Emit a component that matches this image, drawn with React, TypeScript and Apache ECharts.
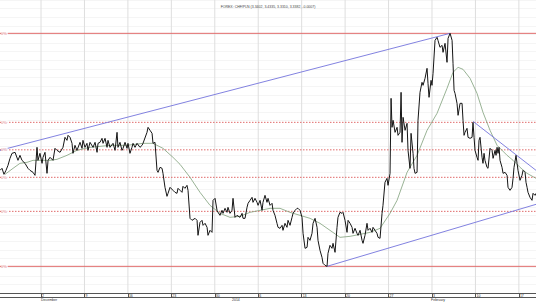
import React, { useEffect, useRef } from "react";
import * as echarts from "echarts";

const titleText = "FOREX: CHF/PLN (3.3402, 3.4335, 3.3310, 3.3382, -0.0007)";

// x values are trading days counted from Monday 2 December 2013
const X_MIN = -4.72;
const X_MAX = 56.97;
const Y_MIN = 3.3695;
const Y_MAX = 3.4574;

const tickDays = [0, 5, 10, 15, 20, 25, 30, 35, 40, 45, 50, 55];
const tickLabels = ["2", "9", "16", "23", "30", "6", "13", "20", "27", "3", "10", "17"];
const monthDays = [0, 21.98, 44.89];
const monthLabels = ["December", "2014", "February"];

const price: [number, number][] = [
  [-4.72,3.4063],[-4.49,3.4069],[-4.26,3.4051],[-4.03,3.4063],[-3.80,3.4078],[-3.57,3.4099],[-3.34,3.4114],[-2.99,3.4117],[-2.65,3.4093],[-2.42,3.4108],[-2.19,3.4093],[-1.84,3.4084],[-1.50,3.4069],[-1.27,3.4063],[-0.92,3.4057],[-0.69,3.4048],[-0.46,3.4132],[-0.35,3.4093],[-0.12,3.4114],[0.12,3.4084],[0.23,3.4102],[0.46,3.4117],[0.69,3.4054],[0.81,3.4093],[1.04,3.4102],[1.38,3.4093],[1.61,3.4129],[1.84,3.4123],[2.19,3.4117],[2.53,3.4132],[2.76,3.4162],[2.99,3.4153],[3.11,3.4168],[3.34,3.4162],[3.57,3.4144],[3.68,3.4114],[3.91,3.4138],[4.14,3.4123],[4.49,3.4147],[4.72,3.4129],[4.83,3.4153],[5.06,3.4132],[5.29,3.4144],[5.41,3.4123],[5.64,3.4147],[5.99,3.4132],[6.22,3.4147],[6.45,3.4117],[6.56,3.4144],[6.79,3.4147],[7.02,3.4159],[7.14,3.4144],[7.37,3.4159],[7.60,3.4132],[7.71,3.4153],[7.94,3.4132],[8.29,3.4144],[8.52,3.4123],[8.75,3.4177],[8.86,3.4132],[9.09,3.4147],[9.32,3.4123],[9.44,3.4129],[9.67,3.4147],[9.90,3.4129],[10.01,3.4144],[10.24,3.4114],[10.47,3.4132],[10.59,3.4144],[10.82,3.4132],[11.05,3.4144],[11.39,3.4132],[11.63,3.4138],[11.74,3.4144],[12.20,3.4177],[12.32,3.4192],[12.55,3.4183],[12.78,3.4174],[12.89,3.4144],[13.12,3.4147],[13.35,3.4063],[13.47,3.4057],[13.70,3.4072],[13.93,3.4069],[14.04,3.4054],[14.27,3.4012],[14.50,3.3985],[14.62,3.3994],[14.85,3.4012],[15.19,3.4003],[15.42,3.3997],[15.65,3.3994],[15.77,3.4009],[16.00,3.4003],[16.23,3.3997],[16.34,3.4015],[16.57,3.4009],[16.80,3.4018],[16.92,3.4003],[17.15,3.3919],[17.38,3.3913],[17.73,3.3919],[17.96,3.3913],[18.07,3.3868],[18.30,3.3907],[18.53,3.3913],[18.65,3.3898],[18.88,3.3904],[19.11,3.3892],[19.22,3.3868],[19.45,3.3883],[19.68,3.3877],[19.80,3.3973],[20.03,3.3979],[20.26,3.3943],[20.37,3.3937],[20.60,3.3928],[20.83,3.3943],[20.95,3.3934],[21.18,3.3949],[21.41,3.3937],[21.52,3.3952],[21.75,3.3934],[21.98,3.3943],[22.10,3.3979],[22.33,3.3922],[22.56,3.3928],[22.90,3.3922],[23.14,3.3934],[23.25,3.3919],[23.48,3.3919],[23.71,3.3952],[23.83,3.3964],[24.06,3.3973],[24.29,3.3982],[24.40,3.3967],[24.63,3.3979],[24.86,3.3967],[24.98,3.3958],[25.21,3.3973],[25.44,3.3943],[25.55,3.3967],[25.78,3.3988],[26.01,3.3967],[26.13,3.3979],[26.36,3.3958],[26.59,3.3964],[26.70,3.3943],[26.93,3.3928],[27.16,3.3904],[27.28,3.3892],[27.51,3.3889],[27.74,3.3898],[27.85,3.3883],[28.08,3.3904],[28.31,3.3892],[28.43,3.3913],[28.66,3.3898],[28.89,3.3922],[29.01,3.3934],[29.24,3.3943],[29.47,3.3949],[29.58,3.3949],[29.81,3.3943],[30.04,3.3922],[30.16,3.3874],[30.39,3.3829],[30.62,3.3832],[30.73,3.3862],[30.96,3.3853],[31.19,3.3874],[31.31,3.3904],[31.54,3.3919],[31.77,3.3892],[31.88,3.3853],[32.11,3.3823],[32.34,3.3802],[32.46,3.3784],[32.69,3.3778],[32.92,3.3775],[33.03,3.3814],[33.26,3.3838],[33.49,3.3829],[33.61,3.3844],[33.84,3.3817],[34.07,3.3892],[34.18,3.3922],[34.41,3.3937],[34.65,3.3934],[34.76,3.3937],[34.99,3.3913],[35.22,3.3877],[35.34,3.3913],[35.57,3.3904],[35.80,3.3892],[35.91,3.3874],[36.14,3.3889],[36.37,3.3874],[36.49,3.3868],[36.72,3.3883],[36.95,3.3853],[37.06,3.3844],[37.29,3.3868],[37.52,3.3904],[37.64,3.3883],[37.87,3.3889],[38.10,3.3877],[38.21,3.3892],[38.44,3.3883],[38.67,3.3874],[38.79,3.3862],[39.02,3.3859],[39.25,3.3934],[39.36,3.3958],[39.59,3.4027],[39.82,3.4039],[39.94,3.4018],[40.17,3.4054],[40.29,3.4279],[40.40,3.4192],[40.52,3.4213],[40.75,3.4177],[40.98,3.4192],[41.09,3.4168],[41.32,3.4177],[41.44,3.4297],[41.55,3.4147],[41.67,3.4222],[41.90,3.4183],[42.13,3.4204],[42.24,3.4123],[42.47,3.4069],[42.59,3.4174],[42.82,3.4114],[42.93,3.4069],[43.05,3.4054],[43.28,3.4057],[43.39,3.4213],[43.62,3.4297],[43.85,3.4327],[43.97,3.4318],[44.20,3.4339],[44.43,3.4369],[44.54,3.4324],[44.66,3.4282],[44.89,3.4333],[45.00,3.4318],[45.12,3.4354],[45.35,3.4453],[45.58,3.4462],[45.69,3.4453],[45.92,3.4432],[46.16,3.4438],[46.27,3.4417],[46.50,3.4444],[46.73,3.4387],[46.85,3.4459],[47.08,3.4474],[47.31,3.4453],[47.42,3.4384],[47.54,3.4303],[47.65,3.4294],[47.88,3.4264],[48.00,3.4228],[48.23,3.4264],[48.46,3.4264],[48.57,3.4213],[48.69,3.4168],[48.80,3.4177],[49.03,3.4189],[49.15,3.4162],[49.38,3.4159],[49.61,3.4162],[49.72,3.4207],[49.84,3.4162],[49.95,3.4123],[50.18,3.4102],[50.30,3.4093],[50.41,3.4153],[50.53,3.4162],[50.76,3.4102],[50.87,3.4084],[50.99,3.4114],[51.10,3.4093],[51.33,3.4072],[51.45,3.4069],[51.68,3.4129],[51.91,3.4123],[52.03,3.4099],[52.26,3.4123],[52.37,3.4108],[52.49,3.4132],[52.60,3.4114],[52.72,3.4132],[52.83,3.4093],[53.06,3.4072],[53.18,3.4054],[53.41,3.4057],[53.64,3.4048],[53.75,3.4012],[53.98,3.4003],[54.21,3.4012],[54.33,3.4039],[54.44,3.4072],[54.67,3.4108],[54.79,3.4084],[54.90,3.4063],[55.13,3.4033],[55.36,3.4048],[55.48,3.4063],[55.71,3.4057],[55.82,3.4027],[55.94,3.4012],[56.05,3.3997],[56.28,3.3982],[56.51,3.3973],[56.63,3.3994],[56.86,3.3988],[56.97,3.3994]
];

const movingAverage: [number, number][] = [
  [-4.14,3.4051],[-3.22,3.4069],[-2.42,3.4084],[-1.61,3.4087],[-0.92,3.4093],[-0.12,3.4093],[1.04,3.4093],[1.84,3.4096],[2.99,3.4108],[4.14,3.4123],[5.64,3.4132],[7.94,3.4138],[9.90,3.4138],[11.74,3.4144],[12.89,3.4144],[14.04,3.4129],[15.19,3.4102],[16.00,3.4081],[17.15,3.4042],[18.30,3.3997],[19.45,3.3958],[20.60,3.3934],[21.75,3.3922],[22.90,3.3925],[24.06,3.3937],[25.21,3.3943],[26.36,3.3949],[27.51,3.3949],[28.66,3.3937],[29.81,3.3928],[30.96,3.3919],[32.11,3.3904],[33.26,3.3883],[34.41,3.3862],[35.57,3.3865],[36.72,3.3871],[37.87,3.3877],[39.02,3.3889],[40.17,3.3934],[40.98,3.3973],[42.13,3.4057],[43.28,3.4108],[44.43,3.4183],[45.58,3.4234],[46.73,3.4309],[47.42,3.4357],[48.00,3.4372],[48.57,3.4366],[49.38,3.4339],[50.18,3.4294],[50.87,3.4237],[51.68,3.4183],[52.49,3.4138],[53.64,3.4108],[54.33,3.4093],[55.13,3.4072],[55.94,3.4054],[56.97,3.4039]
];

const upperTrend: [number, number][] = [[-4.72, 3.4123], [47.08, 3.4474]];
const lowerTrend: [number, number][] = [[32.92, 3.3775], [56.97, 3.3961]];
const downTrend: [number, number][] = [[49.72, 3.421], [56.97, 3.4063]];

const fibHigh = 3.4474;
const fibLow = 3.3775;
const fibRatios = [0, 0.236, 0.382, 0.5, 0.618, 1];
const fibLabels = ["0%", "0%", "0%", "0%", "0%", "0%"];

const RED = "#e06a6a";
const BLUE = "#7474dc";

function closestIndex(arr: number[], v: number) {
  let best = 0;
  for (let i = 1; i < arr.length; i++) {
    if (Math.abs(arr[i] - v) < Math.abs(arr[best] - v)) best = i;
  }
  return best;
}

export default function App() {
  const ref = useRef<HTMLDivElement>(null);
  useEffect(() => {
    const chart = echarts.init(ref.current!, null, { renderer: "svg" });
    const fibLevels = fibRatios.map((r) => fibLow + r * (fibHigh - fibLow));
    const gridSeries = tickDays.map((d) => ({
      type: "line",
      data: [
        [d, Y_MIN],
        [d, Y_MAX],
      ],
      showSymbol: false,
      silent: true,
      lineStyle: { color: "#dedede", width: 1 },
      z: 1,
    }));
    const fibSeries = fibLevels.map((l, i) => ({
      type: "line",
      data: [
        [X_MIN, l],
        [X_MAX, l],
      ],
      showSymbol: false,
      silent: true,
      lineStyle: {
        color: RED,
        width: 1,
        type: i === 0 || i === fibLevels.length - 1 ? "solid" : [1.5, 1.5],
      },
      z: 2,
    }));
    chart.setOption({
      animation: false,
      backgroundColor: "#ffffff",
      textStyle: { fontFamily: "Liberation Sans" },
      title: {
        text: titleText,
        left: "center",
        top: 0,
        textStyle: { fontSize: 3.5, fontWeight: "normal", color: "#444" },
      },
      grid: { left: 0, right: 0, top: 0, bottom: 9, containLabel: false },
      xAxis: [
        {
          type: "value",
          min: X_MIN,
          max: X_MAX,
          position: "bottom",
          axisLine: { show: true, onZero: false, lineStyle: { color: "#555", width: 1 } },
          axisTick: { show: true, length: 4, customValues: tickDays, lineStyle: { color: "#555" } },
          axisLabel: {
            customValues: tickDays,
            formatter: (v: number) => tickLabels[closestIndex(tickDays, v)],
            fontSize: 3.5,
            color: "#333",
            align: "left",
            verticalAlign: "top",
            margin: 0.5,
            padding: [0, 0, 0, 1],
          },
          splitLine: { show: false },
        },
        {
          type: "value",
          min: X_MIN,
          max: X_MAX,
          position: "bottom",
          offset: 4,
          axisLine: { show: true, onZero: false, lineStyle: { color: "#555", width: 1 } },
          axisTick: { show: false },
          axisLabel: {
            customValues: monthDays,
            formatter: (v: number) => monthLabels[closestIndex(monthDays, v)],
            fontSize: 3.5,
            color: "#333",
            align: "left",
            verticalAlign: "top",
            margin: 1,
          },
          splitLine: { show: false },
        },
      ],
      yAxis: [
        { type: "value", min: Y_MIN, max: Y_MAX, show: false, splitLine: { show: false } },
        {
          type: "value",
          min: 0,
          max: 34,
          interval: 1,
          axisLine: { show: false },
          axisTick: { show: false },
          axisLabel: { show: false },
          splitLine: { show: true, lineStyle: { color: "#f5f5f5", width: 1 } },
        },
      ],
      series: [
        ...gridSeries,
        ...fibSeries,
        {
          type: "line",
          data: movingAverage,
          showSymbol: false,
          silent: true,
          lineStyle: { color: "#7fa07a", width: 0.8 },
          z: 3,
        },
        ...[upperTrend, lowerTrend, downTrend].map((t) => ({
          type: "line",
          data: t,
          showSymbol: false,
          silent: true,
          lineStyle: { color: BLUE, width: 0.9 },
          z: 3,
        })),
        {
          type: "line",
          data: price,
          showSymbol: false,
          silent: true,
          lineStyle: { color: "#151515", width: 1 },
          z: 4,
        },
        {
          type: "scatter",
          data: fibLevels.map((l) => [X_MIN, l]),
          symbolSize: 0.1,
          silent: true,
          z: 6,
          label: {
            show: true,
            position: "right",
            distance: 1,
            formatter: (p: any) => fibLabels[p.dataIndex],
            fontSize: 4,
            color: "#d45a5a",
            backgroundColor: "#ffffff",
            padding: [0, 1, 0, 0],
          },
        },
      ],
    });
    return () => chart.dispose();
  }, []);
  return (
    <div
      ref={ref}
      style={{ position: "fixed", left: 0, top: 0, width: 536, height: 302, background: "#fff" }}
    />
  );
}
